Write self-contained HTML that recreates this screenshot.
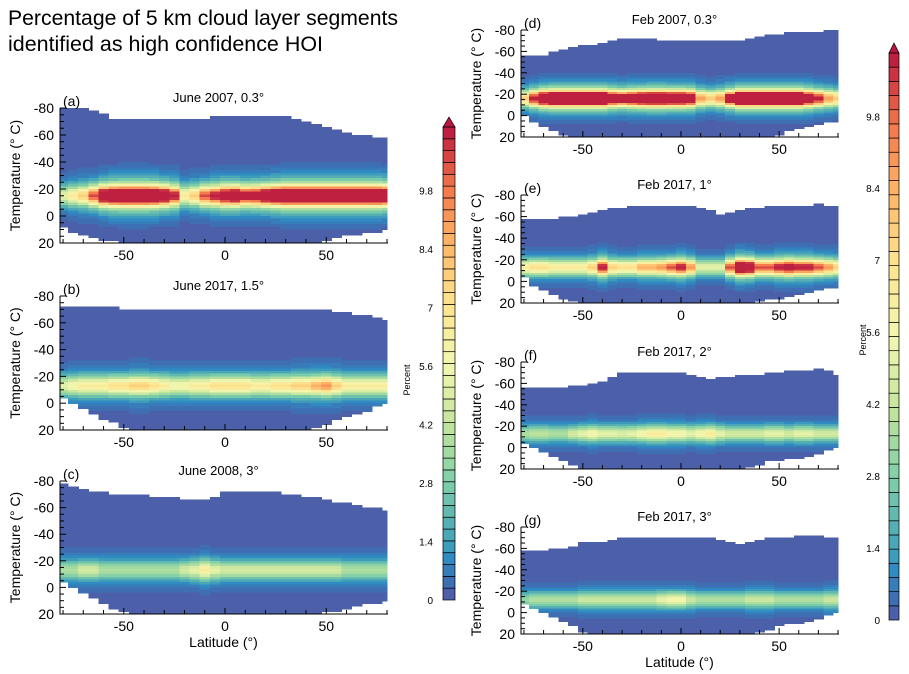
<!DOCTYPE html>
<html><head><meta charset="utf-8"><style>
html,body{margin:0;padding:0;background:#fff;}
svg{display:block;font-family:"Liberation Sans",Arial,sans-serif;}
</style></head><body>
<svg id="fig" width="909" height="674" viewBox="0 0 909 674">
<text x="8" y="25" font-size="21" fill="#000" textLength="390" lengthAdjust="spacingAndGlyphs">Percentage of 5 km cloud layer segments</text>
<text x="8" y="51" font-size="21" fill="#000" textLength="315" lengthAdjust="spacingAndGlyphs">identified as high confidence HOI</text>
</svg>
<script>
const lats=[-80,-75,-70,-65,-60,-55,-50,-45,-40,-35,-30,-25,-20,-15,-10,-5,0,5,10,15,20,25,30,35,40,45,50,55,60,65,70,75,80];
const aTop=[-80,-80,-80,-78,-75,-72,-72,-72,-72,-72,-71,-72,-72,-72,-72,-73,-73,-73,-73,-73,-73,-73,-73,-72,-70,-68,-65,-63,-62,-60,-59,-58,-57];
const aBot=[8,11,13,15,17,18,19,20,20,20,20,20,20,20,20,20,20,20,20,20,20,20,20,20,20,19,18,16,14,13,12,11,10];
const aPeak=[4,5,6,8,11,12.5,13,13,13,12.5,11,9,5,6,8,9,10.5,11,9.5,10,11,12,13,13,13,13,13,13,13,13,13,13,12];
const bTop=[-72,-72,-72,-72,-72,-71,-70,-70,-70,-70,-70,-70,-70,-70,-70,-70,-70,-70,-70,-70,-70,-70,-70,-70,-70,-70,-69,-68,-67,-66,-65,-63,-62];
const bBot=[-5,-1,3,7,11,14,17,19,20,20,20,20,20,20,20,20,20,20,20,20,20,20,20,20,20,18,15,12,10,8,5,2,0];
const bPeak=[4,4.5,5,5,5,5.5,5.5,6,6,5.5,5,4.5,4.5,5,5,5.5,5.5,5.5,5.5,5,5,5.5,5.5,6,6,6.5,7,6,5,5,5,5,5];
const cTop=[-78,-76,-74,-72,-71,-70,-70,-70,-69,-68,-68,-67,-66,-66,-66,-68,-71,-72,-72,-72,-72,-71,-70,-69,-68,-67,-66,-64,-63,-62,-60,-59,-58];
const cBot=[-5,-1,3,7,11,15,18,20,20,20,20,20,20,20,20,20,20,20,20,20,20,20,20,20,20,19,18,17,15,14,12,11,10];
const cPeak=[3,3,3.5,3.5,3,3,3,3,3,3,3,3,3.5,4,5,4,3.5,3.5,3.5,3.5,3.5,3.5,3.5,3.5,3.5,3.5,3.5,3.5,3,3,3,3,3];
const dTop=[-55,-55,-56,-60,-62,-64,-65,-66,-68,-70,-71,-72,-72,-71,-70,-70,-70,-70,-70,-70,-70,-70,-70,-72,-74,-75,-76,-77,-77,-78,-78,-79,-80];
const dBot=[0,5,10,14,18,20,20,20,20,20,20,20,20,20,20,20,20,20,20,20,20,20,20,20,20,19,17,14,12,10,8,6,5];
const dPeak=[6,9,12,13,13,13,13,13,13,11,10,11,12,12.5,12.5,12,12,11,7,6,7,10,13,13,13,13,13,13,13,11,9,7,6];
const eTop=[-58,-58,-58,-58,-59,-60,-62,-64,-65,-67,-68,-69,-70,-70,-70,-70,-70,-70,-68,-65,-62,-63,-66,-67,-68,-69,-70,-70,-70,-70,-71,-70,-70];
const eBot=[-5,3,8,12,15,18,20,20,20,20,20,20,20,20,20,20,20,20,20,20,20,20,20,19,18,16,15,13,11,9,7,5,5];
const ePeak=[5,5.5,5.5,5,5,5,5,6,9,6,5.5,5.5,6.5,6.5,7,8,9,7,4,4,4,8,12,11,8,8,9,10,9,9,8,7,6];
const fTop=[-55,-55,-55,-55,-55,-57,-58,-60,-62,-65,-70,-70,-70,-70,-70,-70,-70,-68,-66,-64,-65,-66,-67,-68,-68,-69,-70,-71,-72,-72,-73,-72,-68];
const fBot=[-5,0,4,8,12,16,20,20,20,20,20,20,20,20,20,20,20,20,20,20,20,20,20,18,15,12,11,10,9,7,5,2,0];
const fPeak=[3,3.2,3.2,3,3,3.5,4,4.5,4,4,3.8,4,4.5,5,5,4.5,4.5,4,4.5,5,4,3.5,3.5,3.5,3.5,4,4,3.5,4,4,3.5,3.5,3.5];
const gTop=[-57,-58,-58,-59,-60,-62,-65,-66,-66,-68,-70,-70,-70,-70,-70,-70,-70,-70,-70,-70,-68,-65,-64,-66,-68,-69,-70,-70,-71,-72,-71,-70,-70];
const gBot=[-8,-4,0,4,8,12,17,20,20,20,20,20,20,20,20,20,20,20,20,20,20,20,20,20,18,15,12,10,9,7,5,2,0];
const gPeak=[2.5,3,3,3,3,3,3.5,3.5,3.5,3.5,3.5,3.5,3.5,3.5,4,4.5,4.5,3.5,3,3,3,3,3,3.5,3.5,3.5,3,3,3,3,3,3.5,3.5];
const bandCenters=[-15,-13,-13,-16,-13,-13,-12];
const panelTitles=["June 2007, 0.3°","June 2017, 1.5°","June 2008, 3°","Feb 2007, 0.3°","Feb 2017, 1°","Feb 2017, 2°","Feb 2017, 3°"];
const panelLetters=["(a)","(b)","(c)","(d)","(e)","(f)","(g)"];
const yTicks=[-80,-60,-40,-20,0,20];
const xTicks=[-50,0,50];
const cbTicks=[0,1.4,2.8,4.2,5.6,7,8.4,9.8];

const NS="http://www.w3.org/2000/svg";
const svg=document.getElementById('fig');
function mk(tag,attrs,parent){const e=document.createElementNS(NS,tag);for(const k in attrs)e.setAttribute(k,attrs[k]);(parent||svg).appendChild(e);return e;}
const anchors=[[0,[74,90,166]],[1.0,[46,140,194]],[1.4,[69,163,184]],[2.8,[127,207,168]],[4.2,[196,229,156]],[5.6,[242,247,176]],[7,[253,228,143]],[8.4,[253,184,105]],[9.8,[242,116,74]],[11.2,[184,23,63]]];
function interp(v){for(let i=1;i<anchors.length;i++){if(v<=anchors[i][0]){const a=anchors[i-1],b=anchors[i];const t=(v-a[0])/(b[0]-a[0]);return a[1].map((c,j)=>Math.round(c+(b[1][j]-c)*t));}}return anchors[anchors.length-1][1];}
const STEP=0.28,NLEV=40;
const levelColors=[];for(let i=0;i<NLEV;i++){const c=interp(i*STEP+STEP/2);levelColors.push(`rgb(${c[0]},${c[1]},${c[2]})`);}
levelColors[0]='rgb(75,96,169)';
function colorOf(v){let i=Math.floor(v/STEP);if(i<0)i=0;if(i>=NLEV)i=NLEV-1;return levelColors[i];}

const panels=[
 {top:aTop,bot:aBot,peak:aPeak,x0:60,x1:387,y0:108,y1:243},
 {top:bTop,bot:bBot,peak:bPeak,x0:60,x1:387,y0:296,y1:430},
 {top:cTop,bot:cBot,peak:cPeak,x0:60,x1:387,y0:481,y1:614},
 {top:dTop,bot:dBot,peak:dPeak,x0:521,x1:838,y0:30,y1:137},
 {top:eTop,bot:eBot,peak:ePeak,x0:521,x1:838,y0:195,y1:303},
 {top:fTop,bot:fBot,peak:fPeak,x0:521,x1:838,y0:362,y1:469},
 {top:gTop,bot:gBot,peak:gPeak,x0:521,x1:838,y0:527,y1:634}];
const LATMIN=-81.5,LATMAX=80;
panels.forEach((p,pi)=>{
 const xs=lat=>p.x0+(lat-LATMIN)/(LATMAX-LATMIN)*(p.x1-p.x0);
 const ys=t=>p.y0+(t+80)/100*(p.y1-p.y0);
 const g=mk('g',{});
 
 
 const hm=mk('g',{'shape-rendering':'crispEdges'},g);
 
 
 const c=bandCenters[pi];
 lats.forEach((lat,i)=>{
  const la=Math.max(LATMIN,lat-2.5),lb=Math.min(LATMAX,lat+2.5);
  for(let t=-80;t<20;t+=2){
   const tm=t+1;
   if(tm<p.top[i]||tm>p.bot[i])continue;
   const d=tm-c,pk=p.peak[i];
   const v=pk*Math.exp(-d*d/45)+0.3*pk*Math.exp(-d*d/220);
   const r=mk('rect',{x:xs(la).toFixed(2),y:ys(t).toFixed(2),width:(xs(lb)-xs(la)+0.6).toFixed(2),height:(ys(t+2)-ys(t)+0.6).toFixed(2),fill:colorOf(v)},hm);
   
   
  }
 });
 const ax=mk('g',{stroke:'#000','stroke-width':1,fill:'none'},g);
 
 
 mk('path',{d:`M${p.x0},${p.y0}V${p.y1}H${p.x1+1}`},ax);
 for(let t=-80;t<=20;t+=5){const y=ys(t);mk('line',{x1:p.x0,x2:p.x0+(t%20===0?6:4),y1:y,y2:y},ax);}
 for(let l=-80;l<=80;l+=10){const x=xs(l);mk('line',{x1:x,x2:x,y1:p.y1,y2:p.y1-(l%50===0?6:4)},ax);}
 yTicks.forEach(t=>{const tx=mk('text',{x:p.x0-6,y:ys(t)+5,'font-size':14,'text-anchor':'end',fill:'#000'},g);tx.textContent=String(t);
  });
 xTicks.forEach(l=>{const tx=mk('text',{x:xs(l),y:p.y1+17,'font-size':14,'text-anchor':'middle',fill:'#000'},g);tx.textContent=String(l);
  });
 const yl=mk('text',{x:0,y:0,'font-size':14,'text-anchor':'middle',fill:'#000',transform:`translate(${p.x0-40},${(p.y0+p.y1)/2}) rotate(-90)`},g);
 yl.textContent='Temperature (° C)';
 
 const lt=mk('text',{x:p.x0+3,y:p.y0-2,'font-size':14,fill:'#000'},g);lt.textContent=panelLetters[pi];
 
 const tt=mk('text',{x:(p.x0+p.x1)/2-5,y:p.y0-6,'font-size':13,'text-anchor':'middle',fill:'#000'},g);tt.textContent=panelTitles[pi];
 
 if(pi===2||pi===6){const xl=mk('text',{x:(p.x0+p.x1)/2,y:p.y1+33,'font-size':14,'text-anchor':'middle',fill:'#000'},g);xl.textContent='Latitude (°)';
  }
});
const bars=[{x:443,w:12,top:127,bottom:600,unit:41.8,labX:433,pctX:410,pctY:380},{x:889,w:10,top:53,bottom:620,unit:51.4,labX:880,pctX:866,pctY:340}];
bars.forEach((b,bi)=>{
 const g=mk('g',{});
 
 
 const h=(b.bottom-b.top)/NLEV;
 for(let i=0;i<NLEV;i++){const r=mk('rect',{x:b.x,y:(b.bottom-(i+1)*h).toFixed(2),width:b.w,height:h.toFixed(2),fill:levelColors[i],stroke:'#000','stroke-width':0.7},g);
  }
 const tri=mk('path',{d:`M${b.x},${b.top}L${b.x+b.w/2},${b.top-10}L${b.x+b.w},${b.top}Z`,fill:'#b8173f',stroke:'#000','stroke-width':0.7},g);
 
 cbTicks.forEach(v=>{const y=b.bottom-v*b.unit;const t=mk('text',{x:b.labX,y:y+4,'font-size':10,'text-anchor':'end',fill:'#000'},g);t.textContent=String(v);
  });
 const pt=mk('text',{x:0,y:0,'font-size':9,'text-anchor':'middle',fill:'#000',transform:`translate(${b.pctX},${b.pctY}) rotate(-90)`},g);pt.textContent='Percent';
 
});
</script>
</body></html>
